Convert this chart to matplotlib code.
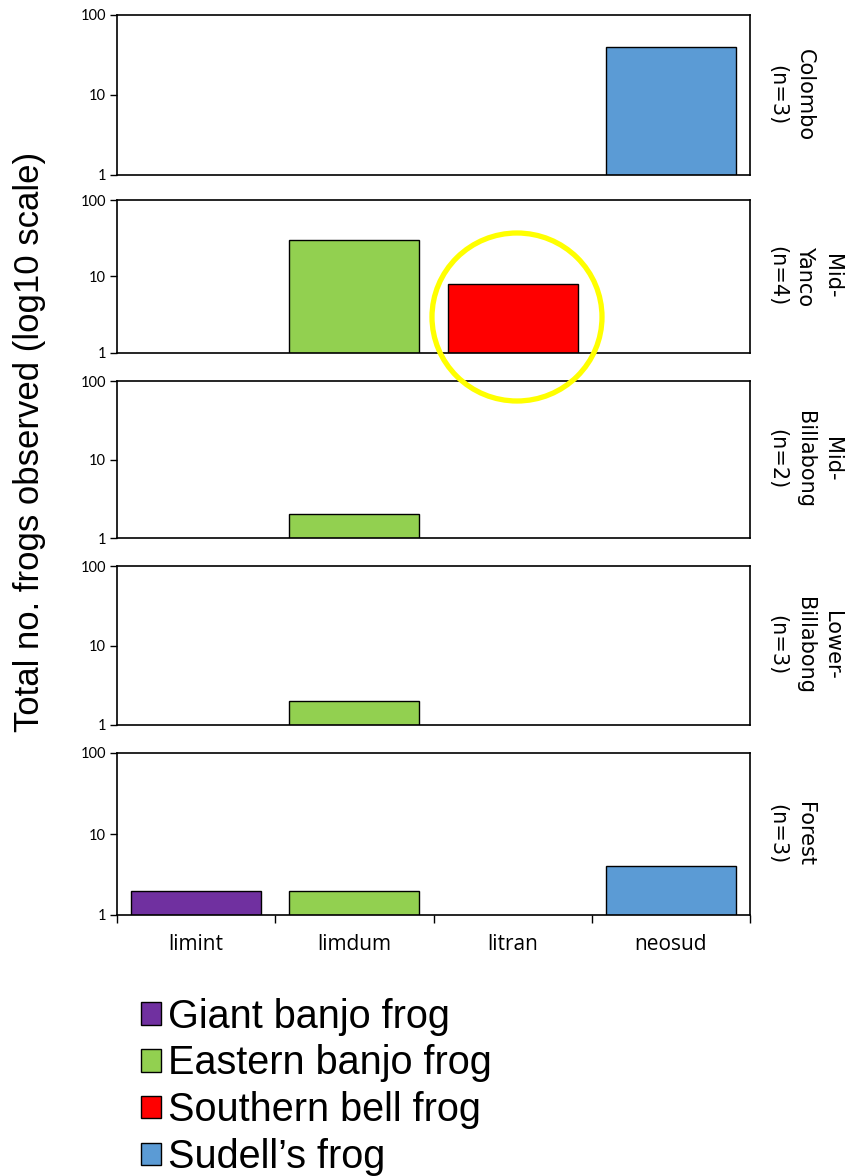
import numpy as np
import matplotlib
matplotlib.use("Agg")
import matplotlib.pyplot as plt
from matplotlib.patches import Patch, Ellipse
from matplotlib.ticker import FixedLocator, NullLocator, FixedFormatter

species = ["limint", "limdum", "litran", "neosud"]
common_names = ["Giant banjo frog", "Eastern banjo frog", "Southern bell frog", "Sudell\u2019s frog"]
colors = ["#7030A0", "#92D050", "#FF0000", "#5B9BD5"]

sites = ["Colombo\n(n=3)", "Mid-\nYanco\n(n=4)", "Mid-\nBillabong\n(n=2)",
         "Lower-\nBillabong\n(n=3)", "Forest\n(n=3)"]
colombo = [0, 0, 0, 40]
mid_yanco = [0, 30, 8, 0]
mid_billabong = [0, 2, 0, 0]
lower_billabong = [0, 2, 0, 0]
forest = [2, 2, 0, 4]
counts = [colombo, mid_yanco, mid_billabong, lower_billabong, forest]

W, H = 856, 1176
fig = plt.figure(figsize=(W / 100, H / 100), dpi=100)

# panel boxes in pixels (top, bottom)
boxes = [(15, 175), (200, 353), (381, 538), (566, 725), (753, 915)]
left, right = 117, 750

x = np.arange(len(species))
for i, (top, bot) in enumerate(boxes):
    ax = fig.add_axes([left / W, 1 - bot / H, (right - left) / W, (bot - top) / H])
    vals = np.array(counts[i])
    for j in range(len(species)):
        if vals[j] > 0:
            ax.bar(x[j], vals[j], width=0.82, color=colors[j], edgecolor="black",
                   linewidth=1.0, zorder=2)
    ax.set_yscale("log")
    ax.set_ylim(1, 100)
    ax.set_xlim(-0.5, len(species) - 0.5)
    ax.yaxis.set_major_locator(FixedLocator([1, 10, 100]))
    ax.yaxis.set_major_formatter(FixedFormatter(["1", "10", "100"]))
    ax.yaxis.set_minor_locator(NullLocator())
    ax.tick_params(axis="y", length=5, width=1, labelsize=10.5, pad=3)
    for lab in ax.get_yticklabels():
        lab.set_fontfamily("Lato")
    for sp in ax.spines.values():
        sp.set_linewidth(1.2)
    if i == len(boxes) - 1:
        ax.set_xticks(np.arange(-0.5, len(species)))
        ax.set_xticklabels([])
        ax.set_xticks(x, minor=True)
        ax.set_xticklabels(species, minor=True, fontsize=15, fontfamily="Open Sans")
        ax.tick_params(axis="x", which="major", length=6, width=1)
        ax.tick_params(axis="x", which="minor", length=0, pad=14)
    else:
        ax.set_xticks([])
    ax.text(1.028, 0.5, sites[i], transform=ax.transAxes, rotation=-90,
            ha="left", va="center", multialignment="center",
            fontsize=15, fontfamily="DejaVu Sans", linespacing=1.45)

fig.text(30 / W, 1 - 442 / H, "Total no. frogs observed (log10 scale)", rotation=90,
         ha="center", va="center", fontsize=25, fontfamily="Liberation Sans")

handles = [Patch(facecolor=c, edgecolor="black", linewidth=1) for c in colors]
fig.legend(handles, common_names, loc="upper left",
           bbox_to_anchor=(121 / W, 1 - 978 / H), frameon=False,
           prop={"family": "Liberation Sans", "size": 28.5},
           handlelength=0.5, handleheight=0.5, handletextpad=0.2,
           labelspacing=0.22, borderpad=0)

# yellow highlight circle around the Southern bell frog bar
fig.add_artist(Ellipse((517 / W, 1 - 317 / H), 170 / W, 168 / H,
                       transform=fig.transFigure, fill=False,
                       edgecolor="#FFFF00", linewidth=3.8, zorder=5))

fig.savefig("out.png", dpi=100)
